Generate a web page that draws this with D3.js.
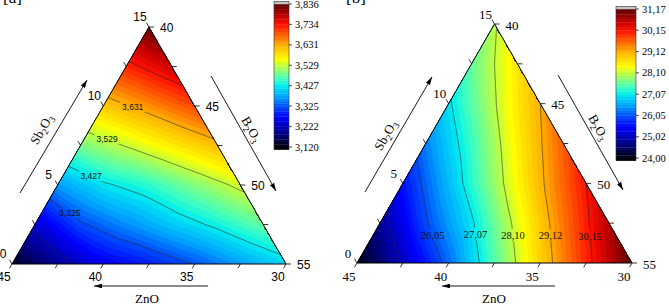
<!DOCTYPE html>
<html>
<head>
<meta charset="utf-8">
<script src="https://cdn.jsdelivr.net/npm/d3@7"></script>
<style>
  body { margin: 0; background: #fff; }
  svg { display: block; }
</style>
</head>
<body>
<svg id="chart" width="669" height="306"></svg>
<script>
// ternary lattice, rows by Sb2O3 = 0, 2.5 ... 15 mol%
// each row runs left->right: B2O3 from 40 up, ZnO from (45 - Sb2O3) down to 30
var sbSteps = [0, 2.5, 5, 7.5, 10, 12.5, 15];

var panelARows = [
  [3.13, 3.20, 3.26, 3.29, 3.326, 3.37, 3.41],
  [3.24, 3.318, 3.36, 3.40, 3.437, 3.48],
  [3.37, 3.42, 3.45, 3.495, 3.54],
  [3.49, 3.532, 3.575, 3.618],
  [3.607, 3.65, 3.696],
  [3.72, 3.77],
  [3.83]
];

var panelBRows = [
  [24.0, 25.1, 26.2, 27.5, 28.8, 30.0, 31.17],
  [24.8, 25.99, 27.0, 28.26, 29.48, 30.66],
  [25.6, 26.71, 27.87, 29.03, 30.15],
  [26.32, 27.37, 28.52, 29.64],
  [27.0, 28.06, 29.12],
  [27.6, 28.6],
  [28.05]
];

var aBarTicks = [3.120, 3.222, 3.325, 3.427, 3.529, 3.631, 3.734, 3.836];
var bBarTicks = [24.00, 25.02, 26.05, 27.07, 28.10, 29.12, 30.15, 31.17];
var aLineLevels = [3.222, 3.325, 3.427, 3.529, 3.631, 3.734];
var bLineLevels = [25.02, 26.05, 27.07, 28.10, 29.12, 30.15];
var aLabelLevels = [3.325, 3.427, 3.529, 3.631];
var bLabelLevels = [26.05, 27.07, 28.10, 29.12, 30.15];

var sbTicks = [0, 5, 10, 15];
var b2o3Ticks = [40, 45, 50, 55];
var znoTicks = [45, 40, 35, 30];

var SANS = "'Liberation Sans', Arial, sans-serif";
var SERIF = "'Liberation Serif', 'Times New Roman', serif";

var jetStops = [0, 0.07, 0.143, 0.21, 0.286, 0.35, 0.43, 0.475, 0.571, 0.614, 0.714, 0.754, 0.857, 0.92, 1];
var jetColors = ['#00000d', '#000066', '#0000b8', '#0000ff', '#0050ff', '#00a0ff', '#00eef0', '#40ffc0',
                 '#c0ff40', '#ffff00', '#ffb000', '#ff8000', '#ff1000', '#c00000', '#5a0000'];
var jet = d3.scaleLinear().domain(jetStops).range(jetColors).interpolate(d3.interpolateRgb).clamp(true);

var panels = [
  {
    id: 'a', rows: panelARows, barTicks: aBarTicks, lineLevels: aLineLevels, labelLevels: aLabelLevels,
    labelY: [213, 176, 139, 107],
    left: 12, right: 286, base: 264, top: 27,
    barX: 274, barW: 15, barTop: 4, barBottom: 147, digits: 3,
    tickFont: SANS, tickSize: 12, cFont: SANS, cSize: 8.5,
    tag: '[a]', tagX: 3,
    arrows: [[20, 193, 87, 80], [211, 76, 276, 191], [208, 286, 94, 286]],
    sbTitle: [41, 129], bTitle: [252, 129], znoTitle: [147, 298]
  },
  {
    id: 'b', rows: panelBRows, barTicks: bBarTicks, lineLevels: bLineLevels, labelLevels: bLabelLevels,
    labelY: [235, 234, 235, 235, 236],
    left: 357, right: 632, base: 263, top: 24,
    barX: 616, barW: 20, barTop: 9, barBottom: 158, digits: 2,
    tickFont: SERIF, tickSize: 13, cFont: SERIF, cSize: 10.5,
    tag: '[b]', tagX: 346,
    arrows: [[365, 192, 432, 77], [558, 75, 623, 190], [555, 286, 442, 286]],
    sbTitle: [385, 135], bTitle: [599, 127], znoTitle: [494, 298]
  }
];

var svg = d3.select('#chart');
var defs = svg.append('defs');

defs.append('marker')
  .attr('id', 'arrow')
  .attr('viewBox', '0 0 10 6')
  .attr('refX', 10).attr('refY', 3)
  .attr('markerWidth', 8).attr('markerHeight', 4.8)
  .attr('markerUnits', 'userSpaceOnUse')
  .attr('orient', 'auto')
  .append('path').attr('d', 'M0,0L10,3L0,6Z').attr('fill', '#000');

// linear interpolation inside the triangular lattice
function sample(rows, s, b) {
  var n = rows.length - 1;
  var h = 15 / n;
  var u = s / h, v = b / h;
  var i = Math.min(Math.floor(u), n - 1);
  var j = Math.floor(v);
  if (i + j > n - 1) j = n - 1 - i;
  j = Math.max(j, 0);
  var fu = u - i, fv = v - j;
  if (fu + fv <= 1) {
    return rows[i][j] * (1 - fu - fv) + rows[i + 1][j] * fu + rows[i][j + 1] * fv;
  }
  return rows[i + 1][j + 1] * (fu + fv - 1) + rows[i + 1][j] * (1 - fv) + rows[i][j + 1] * (1 - fu);
}

function subTitle(sel, parts, size) {
  parts.forEach(function(p) {
    var t = sel.append('tspan').text(p[0]);
    if (p[1]) t.attr('baseline-shift', 'sub').attr('font-size', size * 0.7);
  });
}

function drawPanel(p) {
  var ys = d3.scaleLinear().domain([0, 15]).range([p.base, p.top]);
  var xs = d3.scaleLinear().domain([0, 15]).range([p.left, p.right]);
  var pos = function(s, b) { return [xs(b + s / 2), ys(s)]; };
  var corners = [pos(0, 0), pos(0, 15), pos(15, 0)];
  var lo = p.barTicks[0], hi = p.barTicks[p.barTicks.length - 1];
  var nb = 56, step = (hi - lo) / nb;
  var fmt = function(v) { return d3.format('.' + p.digits + 'f')(v).replace('.', ','); };
  var colorOf = function(v) { return jet((v - lo) / (hi - lo)); };

  // raster over triangle bbox
  var x0 = Math.floor(p.left) - 4, y0 = Math.floor(p.top) - 4;
  var w = Math.ceil(p.right) + 4 - x0, h = Math.ceil(p.base) + 4 - y0;
  var grid = new Float64Array(w * h);
  for (var j = 0; j < h; j++) {
    var s = Math.max(0, Math.min(15, ys.invert(y0 + j + 0.5)));
    for (var i = 0; i < w; i++) {
      var b = xs.invert(x0 + i + 0.5) - s / 2;
      b = Math.max(0, Math.min(15 - s, b));
      grid[j * w + i] = sample(p.rows, s, b);
    }
  }

  var clipId = 'clip' + p.id;
  defs.append('clipPath').attr('id', clipId)
    .append('path').attr('d', 'M' + corners.join('L') + 'Z');

  var thr = d3.range(-1, nb + 1).map(function(k) { return lo + k * step; });
  var bands = d3.contours().size([w, h]).thresholds(thr)(grid);

  var g = svg.append('g');
  g.append('g').attr('clip-path', 'url(#' + clipId + ')')
    .append('g').attr('transform', 'translate(' + x0 + ',' + y0 + ')')
    .selectAll('path').data(bands).join('path')
      .attr('d', d3.geoPath())
      .attr('fill', function(d) { return colorOf(d.value + step / 2); })
      .attr('stroke', function(d) { return colorOf(d.value + step / 2); })
      .attr('stroke-width', 0.4);

  // contour labels and gaps in the lines
  var maskId = 'mask' + p.id;
  var mask = defs.append('mask').attr('id', maskId).attr('maskUnits', 'userSpaceOnUse')
    .attr('x', 0).attr('y', 0).attr('width', 669).attr('height', 306);
  mask.append('rect').attr('width', 669).attr('height', 306).attr('fill', '#fff');

  var lineG = g.append('g').attr('clip-path', 'url(#' + clipId + ')')
    .append('g').attr('mask', 'url(#' + maskId + ')')
    .append('g').attr('transform', 'translate(' + x0 + ',' + y0 + ')');
  p.lineLevels.forEach(function(lv) {
    lineG.append('path')
      .datum(d3.contours().size([w, h]).thresholds([lv])(grid)[0])
      .attr('d', d3.geoPath())
      .attr('fill', 'none')
      .attr('stroke', '#262626')
      .attr('stroke-width', 0.6);
  });

  p.labelLevels.forEach(function(lv, k) {
    var yy = p.labelY[k];
    var row = Math.round(yy - y0 - 0.5);
    var xc = null;
    for (var i = 0; i < w - 1 && xc === null; i++) {
      var a = grid[row * w + i] - lv, c = grid[row * w + i + 1] - lv;
      if (a === 0 || a * c < 0) xc = x0 + i + 0.5 + a / (a - c);
    }
    if (xc === null) return;
    var t = g.append('text')
      .attr('x', xc).attr('y', yy)
      .attr('text-anchor', 'middle').attr('dominant-baseline', 'central')
      .attr('font-family', p.cFont).attr('font-size', p.cSize)
      .attr('fill', '#111')
      .text(fmt(lv));
    var tw = t.node().getComputedTextLength();
    mask.append('rect')
      .attr('x', xc - tw / 2 - 2).attr('y', yy - p.cSize / 2 - 1)
      .attr('width', tw + 4).attr('height', p.cSize + 2)
      .attr('fill', '#000');
  });

  // frame
  g.append('path').attr('d', 'M' + corners.join('L') + 'Z')
    .attr('fill', 'none').attr('stroke', '#000').attr('stroke-width', 1);

  // ticks every 2.5
  var tl = 5;
  var ticks = d3.range(0, 15.01, 2.5);
  var tickG = g.append('g').attr('stroke', '#000').attr('stroke-width', 0.8);
  ticks.forEach(function(v) {
    var a = pos(v, 0);
    tickG.append('line').attr('x1', a[0]).attr('y1', a[1])
      .attr('x2', a[0] - 0.5 * tl).attr('y2', a[1] - 0.866 * tl);
    var r = pos(15 - v, v);
    tickG.append('line').attr('x1', r[0]).attr('y1', r[1])
      .attr('x2', r[0] + tl).attr('y2', r[1]);
    var bt = pos(0, v);
    tickG.append('line').attr('x1', bt[0]).attr('y1', bt[1])
      .attr('x2', bt[0] - 0.5 * tl).attr('y2', bt[1] + 0.866 * tl);
  });

  var lab = g.append('g').attr('font-family', p.tickFont).attr('font-size', p.tickSize).attr('fill', '#000');
  sbTicks.forEach(function(v) {
    var a = pos(v, 0);
    lab.append('text').attr('x', a[0] - 9).attr('y', a[1] - 10)
      .attr('text-anchor', 'middle').attr('dominant-baseline', 'central').text(v);
  });
  b2o3Ticks.forEach(function(v) {
    var bb = v - 40, r = pos(15 - bb, bb);
    lab.append('text').attr('x', r[0] + 11).attr('y', r[1] + 1)
      .attr('text-anchor', 'start').attr('dominant-baseline', 'central').text(v);
  });
  znoTicks.forEach(function(v) {
    var bt = pos(0, 45 - v);
    lab.append('text').attr('x', bt[0] - 8).attr('y', bt[1] + 13)
      .attr('text-anchor', 'middle').attr('dominant-baseline', 'central').text(v);
  });

  // axis arrows and titles
  p.arrows.forEach(function(ar) {
    g.append('line').attr('x1', ar[0]).attr('y1', ar[1]).attr('x2', ar[2]).attr('y2', ar[3])
      .attr('stroke', '#000').attr('stroke-width', 0.9).attr('marker-end', 'url(#arrow)');
  });
  var ts = 13;
  var sbT = g.append('text').attr('font-family', SERIF).attr('font-size', ts)
    .attr('text-anchor', 'middle').attr('dominant-baseline', 'central')
    .attr('transform', 'translate(' + p.sbTitle + ') rotate(-60)');
  subTitle(sbT, [['Sb'], ['2', 1], ['O'], ['3', 1]], ts);
  var bT = g.append('text').attr('font-family', SERIF).attr('font-size', ts)
    .attr('text-anchor', 'middle').attr('dominant-baseline', 'central')
    .attr('transform', 'translate(' + p.bTitle + ') rotate(60)');
  subTitle(bT, [['B'], ['2', 1], ['O'], ['3', 1]], ts);
  g.append('text').attr('font-family', SERIF).attr('font-size', ts)
    .attr('text-anchor', 'middle').attr('dominant-baseline', 'central')
    .attr('x', p.znoTitle[0]).attr('y', p.znoTitle[1]).text('ZnO');

  // panel tag, mostly cut off by the top edge
  g.append('text').attr('x', p.tagX).attr('y', 3)
    .attr('font-family', SERIF).attr('font-size', 17).text(p.tag);

  // colour bar
  var yb = d3.scaleLinear().domain([lo, hi]).range([p.barBottom, p.barTop]);
  var bar = g.append('g');
  d3.range(-1, nb + 1).forEach(function(k) {
    var v0 = lo + k * step, v1 = v0 + step;
    bar.append('rect')
      .attr('x', p.barX).attr('width', p.barW)
      .attr('y', yb(v1)).attr('height', yb(v0) - yb(v1) + 0.3)
      .attr('fill', k >= nb ? '#c4c4c4' : colorOf(v0 + step / 2));
  });
  bar.append('rect')
    .attr('x', p.barX).attr('width', p.barW)
    .attr('y', yb(hi + step)).attr('height', yb(lo - step) - yb(hi + step))
    .attr('fill', 'none').attr('stroke', '#333').attr('stroke-width', 0.6);
  p.barTicks.forEach(function(v) {
    bar.append('line')
      .attr('x1', p.barX + p.barW).attr('x2', p.barX + p.barW + 3)
      .attr('y1', yb(v)).attr('y2', yb(v))
      .attr('stroke', '#000').attr('stroke-width', 0.7);
    bar.append('text')
      .attr('x', p.barX + p.barW + 6).attr('y', yb(v))
      .attr('dominant-baseline', 'central')
      .attr('font-family', SERIF).attr('font-size', 10.5)
      .text(fmt(v));
  });
}

panels.forEach(drawPanel);
</script>
</body>
</html>
